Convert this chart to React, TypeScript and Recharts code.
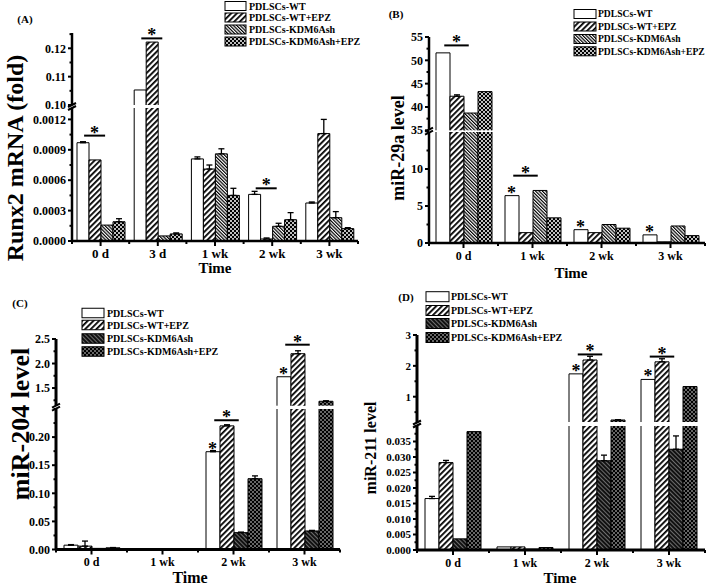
import React from 'react';
import { ComposedChart, Bar, Line, XAxis, YAxis, ErrorBar } from 'recharts';

const FONT = '"Liberation Serif", "Times New Roman", serif';
const SERIES = ['PDLSCs-WT', 'PDLSCs-WT+EPZ', 'PDLSCs-KDM6Ash', 'PDLSCs-KDM6Ash+EPZ'];
const KEYS = ['wt', 'epz', 'kdm', 'ke'];

// (A) Runx2 mRNA (fold)
const aCats = ['0 d', '3 d', '1 wk', '2 wk', '3 wk'];
const aWT = [0.00097, 0.1053, 0.00081, 0.00046, 0.000375];
const aWTErr = [0.00001, 0, 0.00002, 0.00003, 0.00001];
const aEPZ = [0.0008, 0.1222, 0.00071, 0.00002, 0.00106];
const aEPZErr = [0, 0, 0.00004, 0.00001, 0.00014];
const aKDM = [0.000157, 0.00005, 0.00086, 0.000145, 0.00023];
const aKDMErr = [0, 0, 0.00005, 0.00003, 0.00006];
const aKE = [0.00019, 0.00007, 0.00045, 0.00021, 0.000122];
const aKEErr = [0.00003, 0.00001, 0.00007, 0.00007, 0.00001];
const aSig = [0.00104, 0.1235, null, 0.00052, null];
const aStar = [false, false, false, false, false];
const aUpTicks = [0.1, 0.105, 0.11, 0.115, 0.12, 0.125];
const aUpLabels = [0.1, 0.11, 0.12];
const aLowTicks = [0, 0.00015, 0.0003, 0.00045, 0.0006, 0.00075, 0.0009, 0.00105, 0.0012];
const aLowLabels = [0, 0.0003, 0.0006, 0.0009, 0.0012];

// (B) miR-29a level
const bCats = ['0 d', '1 wk', '2 wk', '3 wk'];
const bWT = [51.6, 6.4, 1.8, 1.1];
const bWTErr = [0, 0, 0, 0];
const bEPZ = [42.3, 1.4, 1.4, 0.15];
const bEPZErr = [0.3, 0, 0, 0];
const bKDM = [38.7, 7.1, 2.5, 2.3];
const bKDMErr = [0, 0, 0, 0];
const bKE = [43.3, 3.4, 2.0, 1.0];
const bKEErr = [0, 0, 0, 0];
const bSig = [53.2, 9.1, null, null];
const bStar = [false, true, true, true];
const bUpTicks = [35, 37.5, 40, 42.5, 45, 47.5, 50, 52.5, 55];
const bUpLabels = [35, 40, 45, 50, 55];
const bLowTicks = [0, 2.5, 5, 7.5, 10, 12.5, 15];
const bLowLabels = [0, 5, 10];

// (C) miR-204 level
const cCats = ['0 d', '1 wk', '2 wk', '3 wk'];
const cWT = [0.0077, 0.0003, 0.174, 1.73];
const cWTErr = [0.001, 0, 0.002, 0];
const cEPZ = [0.006, 0.0003, 0.22, 2.2];
const cEPZErr = [0.009, 0, 0.002, 0.06];
const cKDM = [0.002, 0.0003, 0.03, 0.033];
const cKDMErr = [0, 0, 0.001, 0.001];
const cKE = [0.003, 0.0003, 0.126, 1.23];
const cKEErr = [0.0005, 0, 0.005, 0.01];
const cSig = [null, null, 0.23, 2.384];
const cStar = [false, false, true, true];
const cUpTicks = [1.25, 1.5, 1.75, 2.0, 2.25, 2.5];
const cUpLabels = [1.5, 2.0, 2.5];
const cLowTicks = [0, 0.025, 0.05, 0.075, 0.1, 0.125, 0.15, 0.175, 0.2, 0.225, 0.25];
const cLowLabels = [0, 0.05, 0.1, 0.15, 0.2];

// (D) miR-211 level
const dCats = ['0 d', '1 wk', '2 wk', '3 wk'];
const dWT = [0.0166, 0.001, 1.74, 1.56];
const dWTErr = [0.0007, 0, 0, 0];
const dEPZ = [0.0282, 0.001, 2.19, 2.13];
const dEPZErr = [0.0007, 0, 0.12, 0.1];
const dKDM = [0.0036, 0.0003, 0.0288, 0.0325];
const dKDMErr = [0, 0, 0.0018, 0.0043];
const dKE = [0.0382, 0.0008, 0.245, 1.33];
const dKEErr = [0, 0, 0.01, 0];
const dSig = [null, null, 2.37, 2.3];
const dStar = [false, false, true, true];
const dUpTicks = [0.5, 1, 1.5, 2, 2.5, 3];
const dUpLabels = [1, 2, 3];
const dLowTicks = [0, 0.0025, 0.005, 0.0075, 0.01, 0.0125, 0.015, 0.0175, 0.02, 0.0225, 0.025, 0.0275, 0.03, 0.0325, 0.035, 0.0375, 0.04];
const dLowLabels = [0, 0.005, 0.01, 0.015, 0.02, 0.025, 0.03, 0.035];

const TS = 4;
const TM = 2;

type Seg = { top: number; bottom: number; domain: [number, number]; ticks: number[]; labels: number[]; digits: number };
type Cfg = {
  cats: string[];
  values: number[][];
  errors: number[][];
  sig: (number | null)[];
  stars: boolean[];
  axisX: number;
  plotRight: number;
  axisW: number;
  barSize: number;
  axisStroke: number;
  tickFont: number;
  xFont: number;
  fills: string[];
  up: Seg;
  low: Seg;
};

function rows(cfg: Cfg, part: 'up' | 'low') {
  const lo = cfg.up.domain[0];
  const hi = cfg.low.domain[1];
  const inPart = (v: number) => (part === 'up' ? v >= lo : v <= hi);
  return cfg.cats.map((cat, i) => {
    const r: any = { cat };
    KEYS.forEach((k, s) => {
      const v = cfg.values[s][i];
      const e = cfg.errors[s][i];
      r[k] = part === 'up' ? (v >= lo ? v : null) : v;
      r[k + 'Err'] = inPart(v) && e > 0 ? [0, e] : null;
    });
    const sg = cfg.sig[i];
    r.sig = sg != null && inPart(sg) ? sg : null;
    const w = cfg.values[0][i];
    r.star = cfg.stars[i] && inPart(w) ? w : null;
    return r;
  });
}

function OpenBar(props: any) {
  const { x, y, width, height, fill } = props;
  if (height == null || Math.abs(height) < 0.3) return <g />;
  return (
    <g>
      <rect x={x} y={y} width={width} height={height} fill={fill} />
      <path d={`M${x},${y + height}V${y}H${x + width}V${y + height}`} fill="none" stroke="#000" strokeWidth={1} />
    </g>
  );
}

function XTick(props: any) {
  const { x, y, payload, index, band, count, fs } = props;
  const ay = y - TS - TM;
  const marks = [x - band / 2];
  if (index === count - 1) marks.push(x + band / 2);
  return (
    <g>
      <line x1={x} x2={x} y1={ay} y2={ay + 5} stroke="#000" strokeWidth={2} />
      {marks.map((m, i) => (
        <line key={i} x1={m} x2={m} y1={ay} y2={ay + 3} stroke="#000" strokeWidth={2} />
      ))}
      <text x={x} y={y + 2} dy="0.71em" textAnchor="middle" fontSize={fs} fontWeight="bold" fontFamily={FONT} fill="#000">
        {payload.value}
      </text>
    </g>
  );
}

function YTick(props: any) {
  const { x, y, payload, labels, digits, fs } = props;
  const v = payload.value;
  const major = labels.some((m: number) => Math.abs(m - v) < 1e-9);
  const ax = x + TS + TM;
  return (
    <g>
      <line x1={ax} x2={ax - (major ? 4 : 2.5)} y1={y} y2={y} stroke="#000" strokeWidth={2} />
      {major && (
        <text x={x} y={y} dy="0.35em" textAnchor="end" fontSize={fs} fontWeight="bold" fontFamily={FONT} fill="#000">
          {v.toFixed(digits)}
        </text>
      )}
    </g>
  );
}

const sigDot = (off: number, len: number) => (p: any) => {
  if (p.value == null || p.cy == null || isNaN(p.cy)) return <g key={p.index} />;
  const cx = p.cx + off;
  return (
    <g key={p.index}>
      <line x1={cx - len / 2} x2={cx + len / 2} y1={p.cy} y2={p.cy} stroke="#000" strokeWidth={2} />
      <text x={cx} y={p.cy + 3} textAnchor="middle" fontSize={18} fontWeight="bold" fontFamily={FONT} fill="#000">
        *
      </text>
    </g>
  );
};

const starDot = (off: number) => (p: any) => {
  if (p.value == null || p.cy == null || isNaN(p.cy)) return <g key={p.index} />;
  return (
    <text key={p.index} x={p.cx + off} y={p.cy + 3} textAnchor="middle" fontSize={18} fontWeight="bold" fontFamily={FONT} fill="#000">
      *
    </text>
  );
};

function Part({ cfg, part }: { cfg: Cfg; part: 'up' | 'low' }) {
  const seg = part === 'up' ? cfg.up : cfg.low;
  const isLow = part === 'low';
  const MT = 12;
  const MB = isLow ? 0 : 10;
  const XH = isLow ? 32 : 0;
  const MR = 3;
  const width = cfg.axisW + cfg.plotRight - cfg.axisX + MR;
  const height = seg.bottom - seg.top + MT + MB + XH;
  const band = (cfg.plotRight - cfg.axisX) / cfg.cats.length;
  const axisLine = { stroke: '#000', strokeWidth: cfg.axisStroke };
  return (
    <div style={{ position: 'absolute', left: cfg.axisX - cfg.axisW, top: seg.top - MT }}>
      <ComposedChart
        width={width}
        height={height}
        data={rows(cfg, part)}
        margin={{ top: MT, right: MR, bottom: MB, left: 0 }}
        barSize={cfg.barSize}
        barGap={0}
      >
        <XAxis
          dataKey="cat"
          hide={!isLow}
          height={XH}
          axisLine={axisLine}
          tickLine={false}
          tickSize={TS}
          tickMargin={TM}
          interval={0}
          tick={<XTick band={band} count={cfg.cats.length} fs={cfg.xFont} />}
        />
        <YAxis
          type="number"
          domain={seg.domain}
          ticks={seg.ticks}
          interval={0}
          allowDataOverflow={isLow}
          width={cfg.axisW}
          axisLine={axisLine}
          tickLine={false}
          tickSize={TS}
          tickMargin={TM}
          tick={<YTick labels={seg.labels} digits={seg.digits} fs={cfg.tickFont} />}
        />
        {KEYS.map((k, s) => (
          <Bar key={k} dataKey={k} fill={cfg.fills[s]} shape={OpenBar} isAnimationActive={false}>
            <ErrorBar dataKey={k + 'Err'} width={3} stroke="#000" strokeWidth={1.3} direction="y" />
          </Bar>
        ))}
        <Line dataKey="sig" stroke="none" activeDot={false} legendType="none" isAnimationActive={false} dot={sigDot(-cfg.barSize / 2, cfg.barSize * 1.75)} />
        <Line dataKey="star" stroke="none" activeDot={false} legendType="none" isAnimationActive={false} dot={starDot(-cfg.barSize * 1.5)} />
      </ComposedChart>
    </div>
  );
}

const fillsAB = ['#fff', 'url(#pEPZ)', 'url(#pKDMa)', 'url(#pKEa)'];
const fillsCD = ['#fff', 'url(#pEPZ)', 'url(#pKDMc)', 'url(#pKEc)'];

const panelA: Cfg = {
  cats: aCats,
  values: [aWT, aEPZ, aKDM, aKE],
  errors: [aWTErr, aEPZErr, aKDMErr, aKEErr],
  sig: aSig,
  stars: aStar,
  axisX: 72,
  plotRight: 358,
  axisW: 50,
  barSize: 12,
  axisStroke: 2.5,
  tickFont: 12,
  xFont: 13,
  fills: fillsAB,
  up: { top: 33, bottom: 105, domain: [0.1, 0.1254], ticks: aUpTicks, labels: aUpLabels, digits: 2 },
  low: { top: 108, bottom: 241, domain: [0, 0.0013125], ticks: aLowTicks, labels: aLowLabels, digits: 4 },
};

const panelB: Cfg = {
  cats: bCats,
  values: [bWT, bEPZ, bKDM, bKE],
  errors: [bWTErr, bEPZErr, bKDMErr, bKEErr],
  sig: bSig,
  stars: bStar,
  axisX: 429,
  plotRight: 705,
  axisW: 40,
  barSize: 14,
  axisStroke: 2.5,
  tickFont: 12,
  xFont: 12,
  fills: fillsAB,
  up: { top: 36.7, bottom: 130, domain: [35, 55], ticks: bUpTicks, labels: bUpLabels, digits: 0 },
  low: { top: 132.3, bottom: 243.3, domain: [0, 15], ticks: bLowTicks, labels: bLowLabels, digits: 0 },
};

const panelC: Cfg = {
  cats: cCats,
  values: [cWT, cEPZ, cKDM, cKE],
  errors: [cWTErr, cEPZErr, cKDMErr, cKEErr],
  sig: cSig,
  stars: cStar,
  axisX: 56,
  plotRight: 340,
  axisW: 42,
  barSize: 14,
  axisStroke: 3,
  tickFont: 12,
  xFont: 12,
  fills: fillsCD,
  up: { top: 339.3, bottom: 406, domain: [1.14, 2.5], ticks: cUpTicks, labels: cUpLabels, digits: 1 },
  low: { top: 408.5, bottom: 549, domain: [0, 0.25], ticks: cLowTicks, labels: cLowLabels, digits: 2 },
};

const panelD: Cfg = {
  cats: dCats,
  values: [dWT, dEPZ, dKDM, dKE],
  errors: [dWTErr, dEPZErr, dKDMErr, dKEErr],
  sig: dSig,
  stars: dStar,
  axisX: 417,
  plotRight: 705,
  axisW: 42,
  barSize: 14,
  axisStroke: 3,
  tickFont: 11,
  xFont: 12,
  fills: fillsCD,
  up: { top: 335, bottom: 422, domain: [0.18, 3], ticks: dUpTicks, labels: dUpLabels, digits: 0 },
  low: { top: 426, bottom: 550, domain: [0, 0.04], ticks: dLowTicks, labels: dLowLabels, digits: 3 },
};

function Legend({ x, ys, w, h, tx, fills, fs = 10 }: { x: number; ys: number[]; w: number; h: number; tx: number; fills: string[]; fs?: number }) {
  return (
    <g>
      {SERIES.map((s, i) => (
        <g key={s}>
          <rect x={x} y={ys[i] - h / 2} width={w} height={h} fill={fills[i]} stroke="#000" strokeWidth={1} />
          <text x={tx} y={ys[i]} dy="0.35em" fontSize={fs} fontWeight="bold" fontFamily={FONT} fill="#000">
            {s}
          </text>
        </g>
      ))}
    </g>
  );
}

function BreakMark({ x, y }: { x: number; y: number }) {
  return (
    <g stroke="#000" strokeWidth={2}>
      <line x1={x - 4} y1={y + 0.5} x2={x + 4} y2={y - 3.5} />
      <line x1={x - 4} y1={y + 3.5} x2={x + 4} y2={y - 0.5} />
    </g>
  );
}

function Txt({ x, y, size, children, rotate }: { x: number; y: number; size: number; children: React.ReactNode; rotate?: boolean }) {
  return (
    <text
      transform={`translate(${x},${y})${rotate ? ' rotate(-90)' : ''}`}
      textAnchor="middle"
      dominantBaseline="central"
      fontSize={size}
      fontWeight="bold"
      fontFamily={FONT}
      fill="#000"
    >
      {children}
    </text>
  );
}

export default function App() {
  return (
    <div style={{ position: 'absolute', left: 0, top: 0, width: 709, height: 586, overflow: 'hidden', background: '#fff' }}>
      <svg width={0} height={0} style={{ position: 'absolute' }}>
        <defs>
          <pattern id="pEPZ" patternUnits="userSpaceOnUse" width="4" height="4" patternTransform="rotate(45)">
            <rect width="4" height="4" fill="#fff" />
            <rect width="1.8" height="4" fill="#000" />
          </pattern>
          <pattern id="pKDMa" patternUnits="userSpaceOnUse" width="2.4" height="4" patternTransform="rotate(-45)">
            <rect width="2.4" height="4" fill="#fff" />
            <rect width="1.2" height="4" fill="#000" />
          </pattern>
          <pattern id="pKDMc" patternUnits="userSpaceOnUse" width="3" height="4" patternTransform="rotate(-45)">
            <rect width="3" height="4" fill="#111" />
            <rect width="0.9" height="4" fill="#777" />
          </pattern>
          <pattern id="pKEa" patternUnits="userSpaceOnUse" width="4" height="4">
            <rect width="4" height="4" fill="#000" />
            <circle cx="1" cy="1" r="1" fill="#fff" />
            <circle cx="3" cy="3" r="1" fill="#fff" />
          </pattern>
          <pattern id="pKEc" patternUnits="userSpaceOnUse" width="4" height="4">
            <rect width="4" height="4" fill="#000" />
            <circle cx="1" cy="1" r="0.75" fill="#fff" />
            <circle cx="3" cy="3" r="0.75" fill="#fff" />
          </pattern>
        </defs>
      </svg>

      {[panelA, panelB, panelC, panelD].map((p, i) => (
        <React.Fragment key={i}>
          <Part cfg={p} part="up" />
          <Part cfg={p} part="low" />
        </React.Fragment>
      ))}

      <svg width={709} height={586} style={{ position: 'absolute', left: 0, top: 0, pointerEvents: 'none' }}>
        <Txt x={25} y={19} size={11}>(A)</Txt>
        <Txt x={396} y={14} size={11}>(B)</Txt>
        <Txt x={20} y={303} size={11}>(C)</Txt>
        <Txt x={406} y={297} size={11}>(D)</Txt>

        <Txt x={15} y={158} size={24} rotate>Runx2 mRNA (fold)</Txt>
        <Txt x={398} y={148} size={18} rotate>miR-29a level</Txt>
        <Txt x={20} y={424} size={26} rotate>miR-204 level</Txt>
        <Txt x={370} y={448} size={16} rotate>miR-211 level</Txt>

        <Txt x={215} y={268} size={15}>Time</Txt>
        <Txt x={571} y={273} size={15}>Time</Txt>
        <Txt x={190} y={577} size={16}>Time</Txt>
        <Txt x={560} y={578} size={15}>Time</Txt>

        <BreakMark x={72} y={106.5} />
        <BreakMark x={429} y={131.2} />
        <BreakMark x={56} y={407.2} />
        <BreakMark x={417} y={424} />

        <Legend x={225} ys={[6, 17.5, 29.5, 41.5]} w={21} h={9} tx={249} fills={fillsAB} />
        <Legend x={574} ys={[14, 26.5, 39, 51.3]} w={22} h={9} tx={598} fills={fillsAB} fs={9.6} />
        <Legend x={82} ys={[313, 325, 338.5, 351.5]} w={22} h={9.5} tx={107} fills={fillsCD} />
        <Legend x={426} ys={[296.7, 310.5, 323.5, 337.5]} w={23} h={10} tx={451} fills={fillsCD} />
      </svg>
    </div>
  );
}
